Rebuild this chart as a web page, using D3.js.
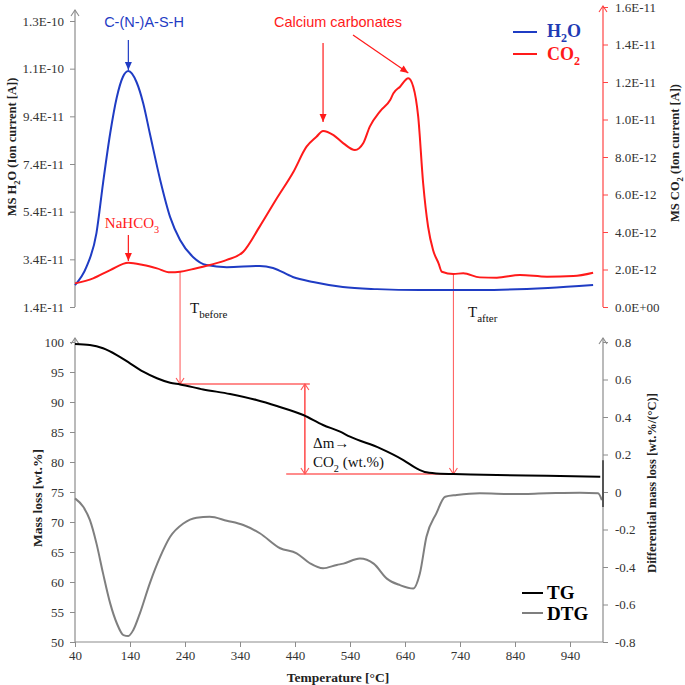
<!DOCTYPE html>
<html><head><meta charset="utf-8">
<script src="https://cdn.jsdelivr.net/npm/d3@7/dist/d3.min.js"></script>
<style>body{margin:0;background:#fff} svg{display:block}</style>
</head><body>
<svg id="c" width="685" height="685"></svg>
<script>
// ---------- DATA ----------
// MS ion current, values in units of 1e-11 A
const h2oTemp = [40, 61, 79, 91, 104, 116, 127, 137, 152, 164, 176, 195, 213, 231, 255, 279, 316, 376, 400, 436, 473, 527, 589, 667, 776, 900, 982];
const h2oVal  = [2.32, 3.09, 4.50, 6.60, 8.69, 10.20, 11.05, 11.30, 10.83, 9.95, 8.69, 6.72, 5.17, 4.21, 3.49, 3.16, 3.07, 3.12, 3.04, 2.66, 2.45, 2.24, 2.15, 2.11, 2.11, 2.20, 2.32];
const co2Temp = [40, 73, 104, 137, 164, 189, 213, 231, 255, 285, 316, 346, 376, 407, 437, 461, 479, 491, 510, 528, 549, 564, 576, 595, 613, 619, 631, 646, 655, 664, 673, 682, 691, 701, 707, 728, 746, 776, 807, 849, 898, 946, 982];
const co2Val  = [0.126, 0.153, 0.197, 0.236, 0.224, 0.206, 0.185, 0.188, 0.203, 0.224, 0.251, 0.295, 0.43, 0.58, 0.72, 0.855, 0.908, 0.939, 0.917, 0.873, 0.837, 0.873, 0.962, 1.045, 1.104, 1.14, 1.175, 1.22, 1.175, 1.015, 0.66, 0.428, 0.304, 0.233, 0.188, 0.176, 0.18, 0.158, 0.156, 0.171, 0.162, 0.165, 0.183];
// TG (wt.%) and DTG (wt.%/°C)
const tgTemp = [40, 67, 91, 116, 140, 164, 189, 213, 231, 273, 322, 370, 407, 455, 491, 522, 540, 595, 637, 661, 679, 704, 728, 807, 898, 995];
const tgVal  = [99.67, 99.5, 98.95, 97.83, 96.45, 95.05, 93.95, 93.2, 92.93, 92.1, 91.33, 90.33, 89.33, 87.83, 86.17, 85.05, 84.22, 82.28, 80.33, 78.95, 78.28, 78.05, 78.0, 77.83, 77.72, 77.55];
const tgEndTemp = [1000, 1000];
const tgEndVal  = [80.3, 72.5];
const dtgTemp = [40, 55, 67, 79, 91, 104, 116, 128, 137, 146, 158, 176, 195, 213, 237, 261, 285, 316, 346, 376, 413, 443, 467, 491, 516, 528, 558, 583, 607, 631, 655, 667, 679, 697, 713, 734, 776, 837, 898, 958, 991, 998];
const dtgVal  = [-0.034, -0.079, -0.149, -0.274, -0.434, -0.594, -0.70, -0.763, -0.768, -0.736, -0.647, -0.487, -0.345, -0.239, -0.168, -0.137, -0.132, -0.153, -0.176, -0.220, -0.300, -0.327, -0.380, -0.407, -0.389, -0.382, -0.355, -0.382, -0.462, -0.497, -0.515, -0.435, -0.239, -0.114, -0.025, -0.016, -0.007, -0.011, -0.007, -0.004, -0.007, -0.043];

// ticks
const xTicks = [40, 140, 240, 340, 440, 540, 640, 740, 840, 940];
const h2oTicks = [1.4, 3.4, 5.4, 7.4, 9.4, 11.4, 13.4];
const h2oTickLabels = ["1.4E-11", "3.4E-11", "5.4E-11", "7.4E-11", "9.4E-11", "1.1E-10", "1.3E-10"];
const co2Ticks = [0, 0.2, 0.4, 0.6, 0.8, 1.0, 1.2, 1.4, 1.6];
const co2TickLabels = ["0.0E+00", "2.0E-12", "4.0E-12", "6.0E-12", "8.0E-12", "1.0E-11", "1.2E-11", "1.4E-11", "1.6E-11"];
const tgTicks = [50, 55, 60, 65, 70, 75, 80, 85, 90, 95, 100];
const dtgTicks = [-0.8, -0.6, -0.4, -0.2, 0, 0.2, 0.4, 0.6, 0.8];

// annotation anchors (data units)
const tBefore = 231, tAfter = 728;
const tgBefore = 93.0, tgAfter = 78.0;

// ---------- CHART ----------
const svg = d3.select("#c");
const serif = "'Liberation Serif','Times New Roman',serif";
const sans = "'Liberation Sans',Arial,sans-serif";
const BLUE = "#1f3cc4", RED = "#ff1a1a", LRED = "#ff5555", AXG = "#8c8c8c", TXT = "#333";

const x = d3.scaleLinear([40, 1000], [75, 603]);
const yH = d3.scaleLinear([1.4, 13.4], [307, 21]);
const yC = d3.scaleLinear([0, 1.6], [307, 7]);
const yT = d3.scaleLinear([50, 100], [642, 342]);
const yD = d3.scaleLinear([-0.8, 0.8], [642, 342]);

const defs = svg.append("defs");
function marker(id, color, type) {
  const m = defs.append("marker").attr("id", id).attr("viewBox", "-10 -6 12 12")
    .attr("refX", 0).attr("refY", 0).attr("markerWidth", 12).attr("markerHeight", 12)
    .attr("markerUnits", "userSpaceOnUse").attr("orient", "auto-start-reverse");
  if (type === "open") m.append("path").attr("d", "M-6,-4 L0,0 L-6,4").attr("fill", "none").attr("stroke", color).attr("stroke-width", 1.1);
  else m.append("path").attr("d", "M-8,-3.5 L0,0 L-8,3.5 Z").attr("fill", color);
}
marker("aGray", AXG, "open");
marker("aRedAx", "#ff4444", "open");
marker("aRedOpen", LRED, "open");
marker("aRedFill", RED, "fill");
marker("aBlueFill", BLUE, "fill");

function styleAxis(g, color) {
  g.select(".domain").remove();
  g.selectAll(".tick line").attr("stroke", color);
  g.selectAll(".tick text").attr("fill", TXT).style("font-family", serif).style("font-size", "13px");
}

// ---- top panel axes ----
const gHL = svg.append("g").attr("transform", `translate(${x(40)},0)`)
  .call(d3.axisLeft(yH).tickValues(h2oTicks).tickFormat((d, i) => h2oTickLabels[i]).tickSize(5).tickPadding(6));
styleAxis(gHL, AXG);
svg.append("line").attr("x1", x(40)).attr("x2", x(40)).attr("y1", yH(1.4)).attr("y2", 10)
  .attr("stroke", AXG).attr("stroke-width", 1.2).attr("marker-end", "url(#aGray)");

const gCR = svg.append("g").attr("transform", `translate(${x(1000)},0)`)
  .call(d3.axisRight(yC).tickValues(co2Ticks).tickFormat((d, i) => co2TickLabels[i]).tickSize(5).tickPadding(7));
styleAxis(gCR, "#ff4444");
svg.append("line").attr("x1", x(1000)).attr("x2", x(1000)).attr("y1", yC(0)).attr("y2", 6)
  .attr("stroke", "#ff4444").attr("stroke-width", 1.2).attr("marker-end", "url(#aRedAx)");

// ---- bottom panel axes ----
const gTL = svg.append("g").attr("transform", `translate(${x(40)},0)`)
  .call(d3.axisLeft(yT).tickValues(tgTicks).tickSize(5).tickPadding(6));
styleAxis(gTL, AXG);
svg.append("line").attr("x1", x(40)).attr("x2", x(40)).attr("y1", yT(50)).attr("y2", 338)
  .attr("stroke", AXG).attr("stroke-width", 1.2).attr("marker-end", "url(#aGray)");

const gDR = svg.append("g").attr("transform", `translate(${x(1000)},0)`)
  .call(d3.axisRight(yD).tickValues(dtgTicks).tickFormat(d => d === 0 ? "0" : d3.format(".1f")(d).replace("−", "-")).tickSize(5).tickPadding(7));
styleAxis(gDR, AXG);
svg.append("line").attr("x1", x(1000)).attr("x2", x(1000)).attr("y1", yD(-0.8)).attr("y2", 338)
  .attr("stroke", AXG).attr("stroke-width", 1.2).attr("marker-end", "url(#aGray)");

const gX = svg.append("g").attr("transform", `translate(0,${yT(50)})`)
  .call(d3.axisBottom(x).tickValues(xTicks).tickSize(5).tickPadding(4));
styleAxis(gX, AXG);
svg.append("line").attr("x1", x(40)).attr("x2", x(1000)).attr("y1", yT(50)).attr("y2", yT(50))
  .attr("stroke", AXG).attr("stroke-width", 1.2);

// ---- curves ----
const zip = (a, b) => a.map((t, i) => [t, b[i]]);
function drawLine(data, ys, color, w, curve) {
  svg.append("path").datum(data)
    .attr("d", d3.line().x(d => x(d[0])).y(d => ys(d[1])).curve(curve || d3.curveMonotoneX))
    .attr("fill", "none").attr("stroke", color).attr("stroke-width", w).attr("stroke-linejoin", "round");
}

// ---- annotation lines ----
function seg(x1, y1, x2, y2, color, w, ms, me) {
  const l = svg.append("line").attr("x1", x1).attr("y1", y1).attr("x2", x2).attr("y2", y2)
    .attr("stroke", color).attr("stroke-width", w);
  if (ms) l.attr("marker-start", `url(#${ms})`);
  if (me) l.attr("marker-end", `url(#${me})`);
}
const coAt = t => d3.scaleLinear(co2Temp, co2Val)(t);
seg(x(tBefore), yC(coAt(tBefore)), x(tBefore), yT(tgBefore), LRED, 1, null, "aRedOpen");
seg(x(tAfter), yC(coAt(tAfter)), x(tAfter), yT(tgAfter), LRED, 1, null, "aRedOpen");
seg(x(tBefore), yT(tgBefore), x(467), yT(tgBefore), RED, 1.2);
seg(x(424), yT(tgAfter), x(tAfter) + 2, yT(tgAfter), RED, 1.2);
seg(x(458), yT(tgBefore), x(458), yT(tgAfter), RED, 1.2, "aRedOpen", "aRedOpen");

drawLine(zip(dtgTemp, dtgVal), yD, "#7f7f7f", 2);
drawLine(zip(tgTemp, tgVal), yT, "#000", 2);
drawLine(zip(tgEndTemp, tgEndVal), yT, "#555", 2, d3.curveLinear);
drawLine(zip(h2oTemp, h2oVal), yH, BLUE, 2);
drawLine(zip(co2Temp, co2Val), yC, RED, 2);

// ---- text helpers ----
// segs: strings (normal) or [string, subSize] (subscript)
function rich(g, segs, size) {
  let shifted = 0;
  segs.forEach(s => {
    const isSub = Array.isArray(s);
    const txt = isSub ? s[0] : s;
    const target = isSub ? size * 0.3 : 0;
    const ts = g.append("tspan").text(txt).attr("dy", target - shifted);
    if (isSub) ts.attr("font-size", s[1] || size * 0.68);
    shifted = target;
  });
  return g;
}
function label(xp, yp, segs, opts) {
  const t = svg.append("text").attr("x", xp).attr("y", yp)
    .attr("font-family", opts.font || serif).attr("font-size", opts.size)
    .attr("font-weight", opts.bold ? "bold" : "normal").attr("fill", opts.color || "#000")
    .attr("text-anchor", opts.anchor || "start");
  if (opts.rotate) t.attr("x", 0).attr("y", 0).attr("transform", `translate(${xp},${yp}) rotate(${opts.rotate})`);
  return rich(t, segs, opts.size);
}

// axis titles
label(16, 147, ["MS H", ["2"], "O (Ion current [A])"], { size: 12.5, bold: true, anchor: "middle", rotate: -90, color: "#222" });
label(679, 153, ["MS CO", ["2"], " (Ion current [A])"], { size: 12.5, bold: true, anchor: "middle", rotate: -90, color: "#222" });
label(42, 498, ["Mass loss [wt.%]"], { size: 13.5, bold: true, anchor: "middle", rotate: -90, color: "#222" });
label(656, 483, ["Differential mass loss [wt.%/(°C)]"], { size: 12.5, bold: true, anchor: "middle", rotate: -90, color: "#222" });
label(338, 682, ["Temperature  [°C]"], { size: 13.5, bold: true, anchor: "middle", color: "#222" });

// legends
seg(513, 32, 537, 32, BLUE, 2);
seg(513, 54, 537, 54, RED, 2);
label(547, 37, ["H", ["2", 12], "O"], { size: 18, bold: true, color: "#1f3cb4" });
label(547, 60, ["CO", ["2", 12]], { size: 18, bold: true, color: RED });
seg(522, 593, 543, 593, "#000", 2);
seg(522, 613, 543, 613, "#7f7f7f", 2);
label(547, 599, ["TG"], { size: 19, bold: true, color: "#000" });
label(547, 620, ["DTG"], { size: 19, bold: true, color: "#000" });

// annotations
label(144, 27, ["C-(N-)A-S-H"], { size: 14.5, font: sans, anchor: "middle", color: BLUE });
seg(x(137), 40, x(137), 70, BLUE, 1.2, null, "aBlueFill");
label(338, 27, ["Calcium  carbonates"], { size: 14.5, font: sans, anchor: "middle", color: RED });
seg(x(491), 43, x(491), 122, RED, 1.2, null, "aRedFill");
seg(353, 35, x(646), 73, RED, 1.2, null, "aRedFill");
label(132, 228, ["NaHCO", ["3"]], { size: 15, color: RED, anchor: "middle" });
seg(x(137), 235, x(137), 261, RED, 1.2, null, "aRedFill");
label(190, 313, ["T", ["before", 11]], { size: 15, color: "#111" });
label(468, 317, ["T", ["after", 11]], { size: 15, color: "#111" });
label(313, 448, ["Δm→"], { size: 15, color: "#111" });
label(313, 467, ["CO", ["2"], " (wt.%)"], { size: 15, color: "#111" });
</script>
</body></html>
